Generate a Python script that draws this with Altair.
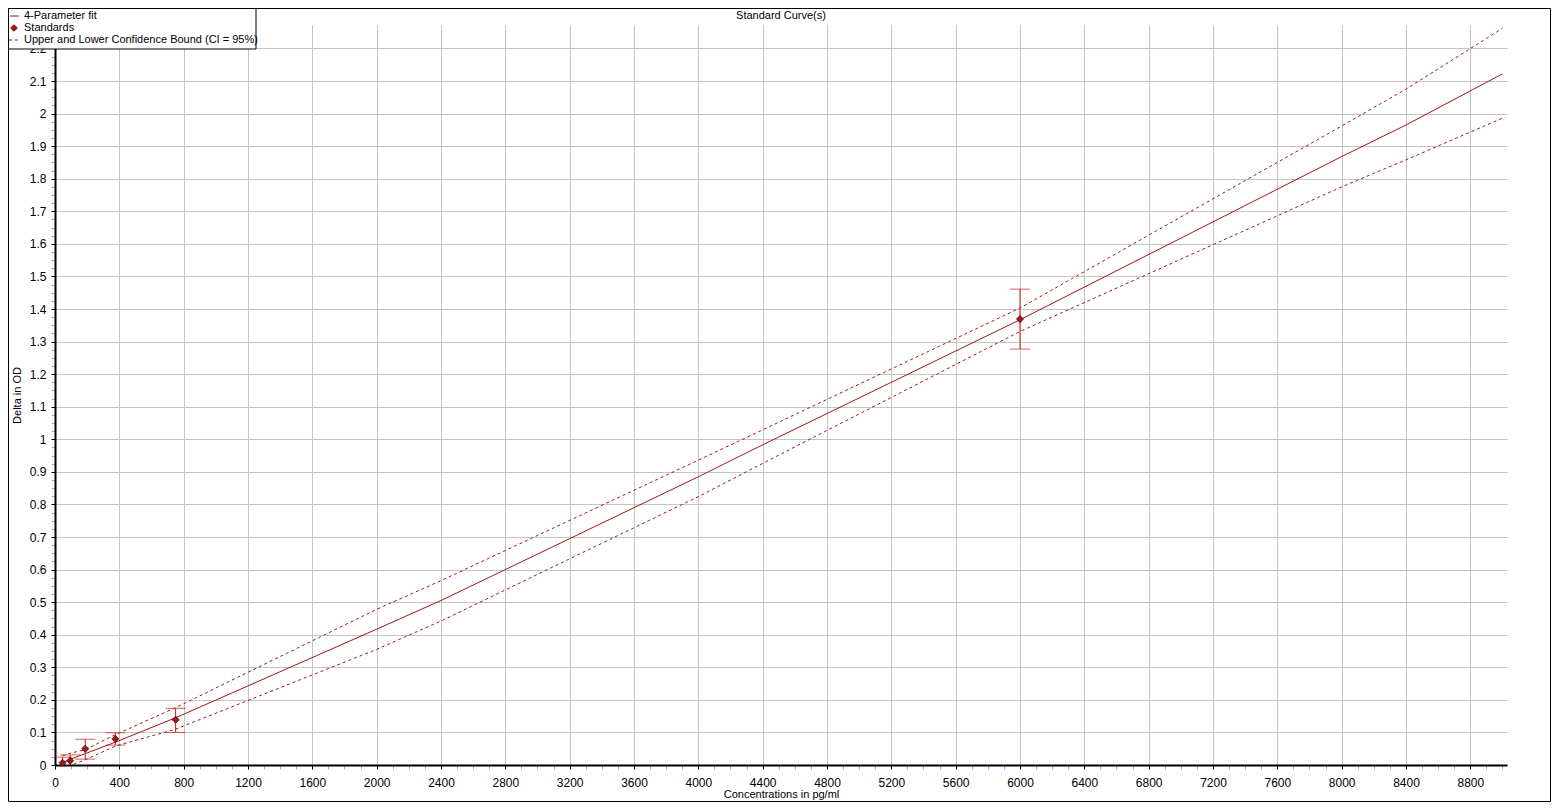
import altair as alt
import pandas as pd

# ---- data ----
std_conc = [47, 94, 188, 375, 750, 6000]
std_od = [0.007, 0.013, 0.050, 0.080, 0.139, 1.369]
std_hi = [0.024, 0.031, 0.079, 0.099, 0.174, 1.461]
std_lo = [-0.008, -0.004, 0.018, 0.061, 0.100, 1.277]

fit_conc = [47, 94, 188, 375, 750, 2000, 2400, 4000, 4400, 6000, 8000, 8400, 9000]
fit_od = [0.008, 0.017, 0.035, 0.070, 0.145, 0.417, 0.505, 0.885, 0.983, 1.367, 1.868, 1.965, 2.122]
upper_od = [0.028, 0.036, 0.047, 0.093, 0.176, 0.478, 0.566, 0.936, 1.029, 1.403, 1.962, 2.075, 2.262]
lower_od = [-0.012, -0.002, 0.016, 0.058, 0.110, 0.355, 0.442, 0.824, 0.926, 1.331, 1.775, 1.858, 1.986]

legend_labels = ["4-Parameter fit", "Standards", "Upper and Lower Confidence Bound (CI = 95%)"]

FONT = "Liberation Sans"
LINE = "#a31515"
BAR = "#cc1a1a"

std = pd.DataFrame({"conc": std_conc, "od": std_od, "hi": std_hi, "lo": std_lo})
fit = pd.DataFrame({"conc": fit_conc, "od": fit_od, "up": upper_od, "low": lower_od})
one = pd.DataFrame({"a": [0]})

x_vals = list(range(0, 9001, 100))
y_vals = [round(i * 0.025, 3) for i in range(0, 91)]

x_axis = alt.Axis(
    values=x_vals,
    tickCount=1000,
    labelExpr="datum.value % 400 === 0 ? datum.label : ''",
    format="d",
    gridOpacity={"condition": {"test": "datum.value % 400 === 0", "value": 1}, "value": 0},
    tickOpacity={"condition": {"test": "datum.value % 400 === 0", "value": 1}, "value": 0.35},
    labelOverlap=False,
    labelFlush=False,
    labelPadding=8,
    titlePadding=0,
    title="Concentrations in pg/ml",
)
y_axis = alt.Axis(
    values=y_vals,
    tickCount=1000,
    labelExpr="round(datum.value * 40) % 4 === 0 ? datum.label : ''",
    format=".3~f",
    gridOpacity={"condition": {"test": "round(datum.value * 40) % 4 === 0", "value": 1}, "value": 0},
    tickOpacity={"condition": {"test": "round(datum.value * 40) % 4 === 0", "value": 1}, "value": 0.35},
    labelOverlap=False,
    labelFlush=False,
    labelPadding=5,
    titlePadding=7,
    title="Delta in OD",
)

xs = alt.Scale(domain=[0, 9028], nice=False)
ys = alt.Scale(domain=[0, 2.272], nice=False)

base = alt.Chart(fit)
fit_line = base.mark_line(color=LINE, strokeWidth=1).encode(
    x=alt.X("conc:Q", scale=xs, axis=x_axis),
    y=alt.Y("od:Q", scale=ys, axis=y_axis),
)
up_line = base.mark_line(color=LINE, strokeWidth=1, strokeDash=[3, 3], clip=True).encode(
    x="conc:Q", y="up:Q"
)
low_line = base.mark_line(color=LINE, strokeWidth=1, strokeDash=[3, 3], clip=True).encode(
    x="conc:Q", y="low:Q"
)

sbase = alt.Chart(std)
bars = sbase.mark_rule(color=BAR, strokeWidth=1, clip=True).encode(
    x="conc:Q", y="lo:Q", y2="hi:Q"
)
cap_hi = sbase.mark_tick(color=BAR, orient="horizontal", size=20, thickness=1, clip=True).encode(
    x="conc:Q", y="hi:Q"
)
cap_lo = sbase.mark_tick(color=BAR, orient="horizontal", size=20, thickness=1, clip=True).encode(
    x="conc:Q", y="lo:Q"
)
pts = sbase.mark_point(shape="diamond", filled=True, size=50, color="#a01818",
                       stroke="#5a0000", strokeWidth=0.8, opacity=1).encode(
    x="conc:Q", y="od:Q"
)

title = alt.Chart(one).mark_text(font=FONT, fontSize=11, color="black", baseline="middle",
                                 align="center").encode(
    x=alt.value(726), y=alt.value(-9), text=alt.value("Standard Curve(s)")
)

frame = alt.Chart(one).mark_rect(filled=False, stroke="black", strokeWidth=1).encode(
    x=alt.value(-46.5), x2=alt.value(1495.5), y=alt.value(-16.5), y2=alt.value(776.5)
)

leg_box = alt.Chart(one).mark_rect(fill="white", stroke="black", strokeWidth=1).encode(
    x=alt.value(-46.5), x2=alt.value(201), y=alt.value(-16.5), y2=alt.value(24)
)
leg_l1 = alt.Chart(one).mark_rule(color=LINE, strokeWidth=1).encode(
    x=alt.value(-45), x2=alt.value(-36), y=alt.value(-9)
)
leg_p = alt.Chart(one).mark_point(shape="diamond", filled=True, size=45, color="#a01818",
                                  stroke="#5a0000", strokeWidth=0.8, opacity=1).encode(
    x=alt.value(-41), y=alt.value(3)
)
leg_l3 = alt.Chart(one).mark_rule(color=LINE, strokeWidth=1, strokeDash=[3, 3]).encode(
    x=alt.value(-46), x2=alt.value(-36), y=alt.value(15)
)
leg_texts = []
for i, lab in enumerate(legend_labels):
    leg_texts.append(
        alt.Chart(one).mark_text(font=FONT, fontSize=11, color="black", align="left",
                                 baseline="middle").encode(
            x=alt.value(-31), y=alt.value(-9 + 12 * i), text=alt.value(lab)
        )
    )

chart = alt.layer(
    fit_line, up_line, low_line, bars, cap_hi, cap_lo, pts, title, frame,
    leg_box, leg_l1, leg_p, leg_l3, *leg_texts
).properties(
    width=1452, height=740,
    autosize=alt.AutoSizeParams(type="none"),
    padding={"left": 47, "top": 17, "right": 44, "bottom": 37},
).configure_view(
    stroke=None
).configure_axis(
    labelFont=FONT, labelFontSize=12, labelColor="black",
    titleFont=FONT, titleFontSize=11, titleFontWeight="normal", titleColor="black",
    domainColor="black", domainWidth=2,
    tickColor="black", tickSize=4, tickWidth=1,
    gridColor="#c4c4c4", gridWidth=1,
)

chart.save("out.html", embed_options={"renderer": "svg", "actions": False})
